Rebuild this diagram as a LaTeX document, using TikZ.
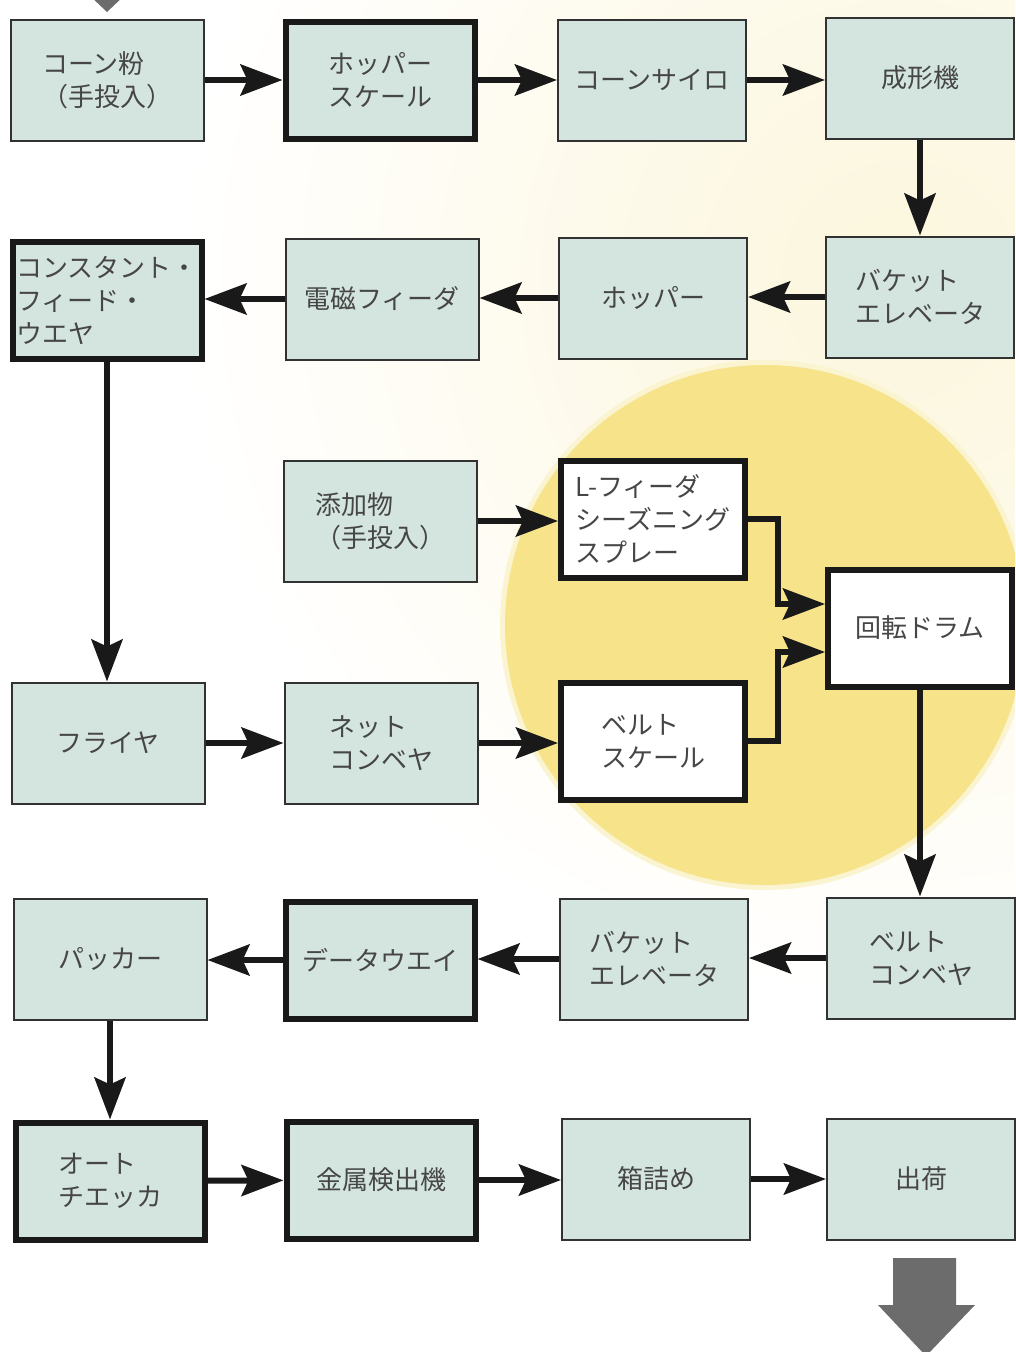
\documentclass[tikz,border=0pt]{standalone}
\usepackage{fontspec}
\newfontfamily\jpfont{Noto Sans CJK JP}
\usetikzlibrary{arrows.meta}
\definecolor{boxfill}{RGB}{212,229,224}
\definecolor{boxline}{RGB}{50,50,50}
\definecolor{txtc}{RGB}{70,70,70}
\definecolor{yellowc}{RGB}{246,227,138}
\definecolor{creamc}{RGB}{252,246,220}
\definecolor{greyarrow}{RGB}{108,108,108}
\tikzset{
  box/.style={draw=boxline, line width=2pt, fill=boxfill, minimum width=193pt,
    minimum height=121pt, inner sep=2pt, align=left, text=txtc,
    font=\jpfont\fontsize{26}{33}\selectfont},
  tbox/.style={box, draw=black!90, line width=6pt, minimum width=189pt, minimum height=117pt},
  wbox/.style={tbox, fill=white},
  narrow/.style={minimum width=188pt},
  narrowt/.style={minimum width=184pt},
  arr/.style={draw=black!90, line width=6pt, -{Stealth[length=42pt,width=31pt,inset=7pt]}},
}
\begin{document}
\begin{tikzpicture}[x=1pt,y=-1pt]
\useasboundingbox (0,0) rectangle (1015,1352);
\fill[white] (0,0) rectangle (1015,1352);
\begin{scope}
\clip (0,0) rectangle (1015,1352);
\shade[inner color=creamc, outer color=white] (900,280) circle (720);
\fill[yellowc!40] (765,625) circle (265);
\fill[yellowc] (765,625) circle (260);
% grey arrows
\fill[greyarrow] (88,-6) -- (126,-6) -- (107,12) -- cycle;
\fill[greyarrow] (893,1258) -- (956,1258) -- (956,1305) -- (975,1305) -- (926,1356) -- (878,1305) -- (893,1305) -- cycle;
\end{scope}

% row 1
\node[box]  (A) at (107,80) {コーン粉\\（手投入）};
\node[tbox] (B) at (380,80) {ホッパー\\スケール};
\node[box,narrow]  (C) at (652,80) {コーンサイロ};
\node[box,narrow]  (D) at (920,78) {成形機};
% row 2
\node[box,narrow]  (E) at (920,297) {バケット\\エレベータ};
\node[box,narrow]  (F) at (653,298) {ホッパー};
\node[box]  (G) at (382,299) {電磁フィーダ};
\node[tbox] (H) at (107,300) {コンスタント・\\フィード・\\ウエヤ};
% row 3
\node[box]  (I) at (380,521) {添加物\\（手投入）};
\node[wbox,narrowt] (J) at (653,519) {L-フィーダ\\シーズニング\\スプレー};
\node[wbox,narrowt] (K) at (920,628) {回転ドラム};
% row 4
\node[box]  (L) at (108,743) {フライヤ};
\node[box]  (M) at (381,743) {ネット\\コンベヤ};
\node[wbox,narrowt] (N) at (653,741) {ベルト\\スケール};
% row 5
\node[box,narrow]  (O) at (921,958) {ベルト\\コンベヤ};
\node[box,narrow]  (P) at (654,959) {バケット\\エレベータ};
\node[tbox] (Q) at (380,960) {データウエイ};
\node[box]  (R) at (110,959) {パッカー};
% row 6
\node[tbox] (S) at (110,1181) {オート\\チエッカ};
\node[tbox] (T) at (381,1180) {金属検出機};
\node[box,narrow]  (U) at (656,1179) {箱詰め};
\node[box,narrow]  (V) at (921,1179) {出荷};

\coordinate (k1) at ([yshift=24pt]K.west);
\coordinate (k2) at ([yshift=-24pt]K.west);

% connectors
\draw[arr] (A) -- (B);
\draw[arr] (B) -- (C);
\draw[arr] (C) -- (C -| D.west);
\draw[arr] (D) -- (E);
\draw[arr] (E) -- (E -| F.east);
\draw[arr] (F) -- (F -| G.east);
\draw[arr] (G) -- (G -| H.east);
\draw[arr] (H) -- (H |- L.north);
\draw[arr] (I) -- (I -| J.west);
\draw[arr] (J.east) -- ++(30,0) |- (k1);
\draw[arr] (N.east) -- ++(30,0) |- (k2);
\draw[arr] (L) -- (M);
\draw[arr] (M) -- (M -| N.west);
\draw[arr] (K) -- (K |- O.north);
\draw[arr] (O) -- (O -| P.east);
\draw[arr] (P) -- (P -| Q.east);
\draw[arr] (Q) -- (Q -| R.east);
\draw[arr] (R) -- (S);
\draw[arr] (S) -- (T);
\draw[arr] (T) -- (T -| U.west);
\draw[arr] (U) -- (U -| V.west);
\end{tikzpicture}
\end{document}
